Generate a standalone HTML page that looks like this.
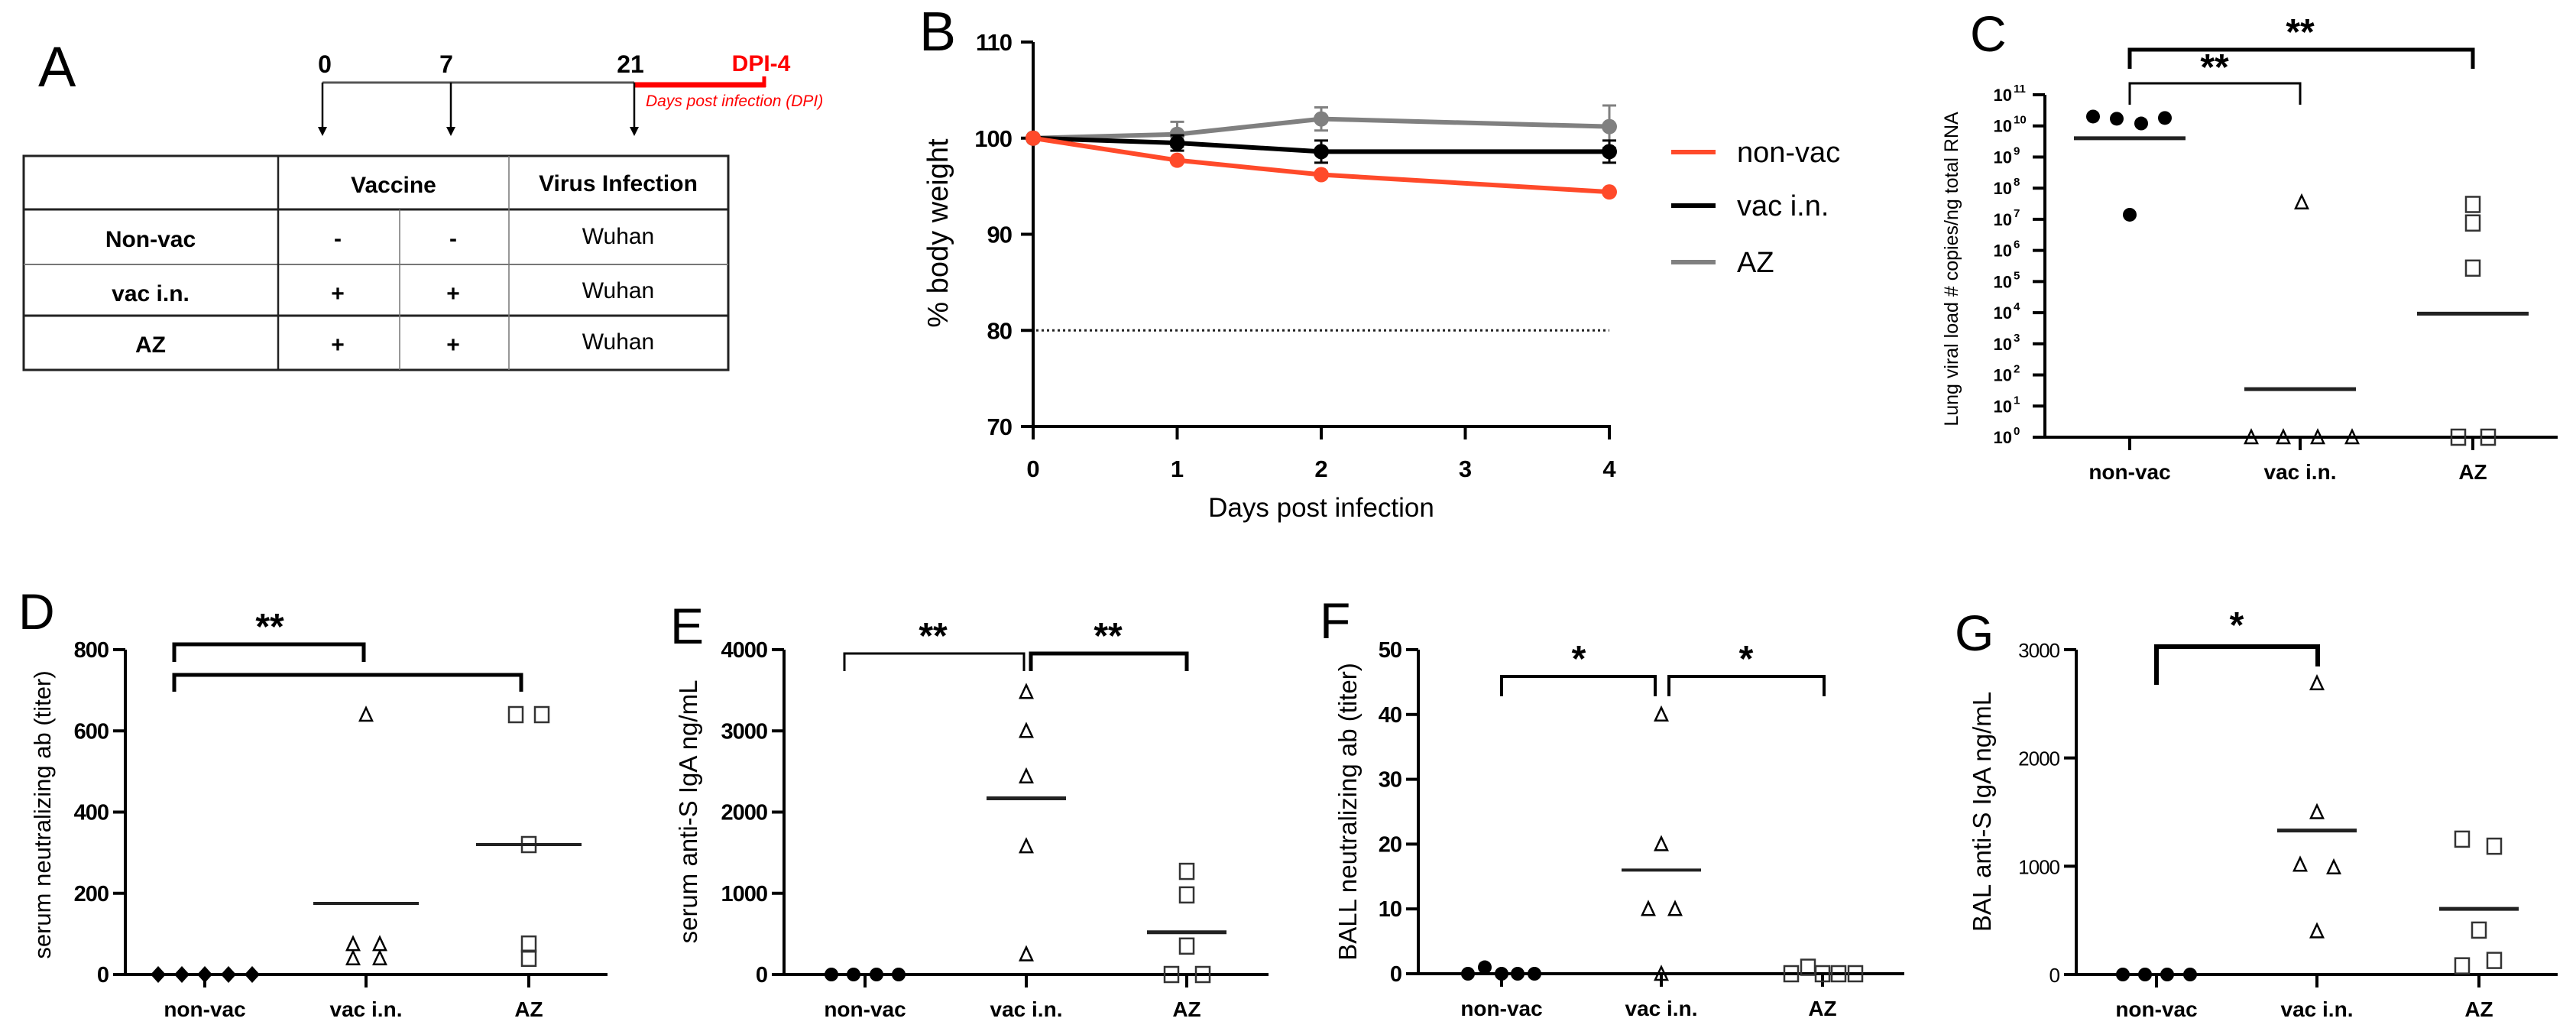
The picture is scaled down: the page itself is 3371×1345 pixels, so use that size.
<!DOCTYPE html>
<html><head><meta charset="utf-8">
<style>
html,body{margin:0;padding:0;background:#fff;}
svg{display:block;font-family:"Liberation Sans",Arial,sans-serif;}
</style></head>
<body>
<svg id="fig" xmlns="http://www.w3.org/2000/svg" width="3371" height="1345" viewBox="0 0 3371 1345">
<rect width="3371" height="1345" fill="#fff"/>
<!-- Panel A -->
<g>
<text x="50" y="113" font-size="74">A</text>
<g font-weight="bold" font-size="32" text-anchor="middle">
<line x1="422" y1="108" x2="830" y2="108" stroke="#555" stroke-width="3"/>
<line x1="830" y1="111" x2="1002" y2="111" stroke="#f00" stroke-width="7"/>
<line x1="1000" y1="100" x2="1000" y2="114" stroke="#f00" stroke-width="5"/>
<line x1="422" y1="108" x2="422" y2="170" stroke="#000" stroke-width="2.5"/><path d="M416 166 L428 166 L422 178 Z"/>
<line x1="590" y1="108" x2="590" y2="170" stroke="#000" stroke-width="2.5"/><path d="M584 166 L596 166 L590 178 Z"/>
<line x1="830" y1="108" x2="830" y2="170" stroke="#000" stroke-width="2.5"/><path d="M824 166 L836 166 L830 178 Z"/>
<text x="425" y="95">0</text>
<text x="584" y="95">7</text>
<text x="825" y="95">21</text>
<text x="996" y="93" fill="#f00" font-size="30">DPI-4</text>
<text x="845" y="139" fill="#f00" font-size="21" font-weight="normal" font-style="italic" text-anchor="start">Days post infection  (DPI)</text>
</g>
<g font-size="30" text-anchor="middle">
<rect x="31" y="204" width="922" height="280" fill="none" stroke="#222" stroke-width="3"/>
<line x1="31" y1="274" x2="953" y2="274" stroke="#222" stroke-width="3"/>
<line x1="31" y1="346" x2="953" y2="346" stroke="#777" stroke-width="2"/>
<line x1="31" y1="413" x2="953" y2="413" stroke="#222" stroke-width="3"/>
<line x1="364" y1="204" x2="364" y2="484" stroke="#222" stroke-width="2.5"/>
<line x1="523" y1="274" x2="523" y2="484" stroke="#777" stroke-width="1.5"/>
<line x1="666" y1="204" x2="666" y2="484" stroke="#777" stroke-width="1.5"/>
<text x="515" y="252" font-weight="bold">Vaccine</text>
<text x="809" y="250" font-weight="bold">Virus Infection</text>
<text x="197" y="323" font-weight="bold">Non-vac</text>
<text x="197" y="394" font-weight="bold">vac i.n.</text>
<text x="197" y="461" font-weight="bold">AZ</text>
<text x="442" y="322" font-weight="bold">-</text><text x="593" y="322" font-weight="bold">-</text>
<text x="442" y="394" font-weight="bold">+</text><text x="593" y="394" font-weight="bold">+</text>
<text x="442" y="461" font-weight="bold">+</text><text x="593" y="461" font-weight="bold">+</text>
<text x="809" y="319">Wuhan</text><text x="809" y="390">Wuhan</text><text x="809" y="457">Wuhan</text>
</g>
</g>
<g id="charts"></g>
</svg>
<script>
// ---------- Panel B data ----------
const bDays = [0, 1, 2, 4];
const bNonVac = [100, 97.7, 96.2, 94.4];
const bVac = [100, 99.5, 98.6, 98.6];
const bVacErr = [0, 0.8, 1.15, 1.15];
const bAZ = [100, 100.4, 102.0, 101.2];
const bAZErr = [0, 1.3, 1.2, 2.2];
const bYTicks = [70, 80, 90, 100, 110];
const bXTicks = [0, 1, 2, 3, 4];
const bThreshold = 80;
// ---------- Panel C data ----------
const cNonVac = [2e10, 1.7e10, 1.2e10, 1.8e10, 1.4e7];
const cVac = [3.5e7, 1, 1, 1, 1];
const cAZ = [7.6e6, 2.7e5, 1, 1, 3e7];
const cMeans = [4e9, 35, 9.3e3];
const cExps = [0,1,2,3,4,5,6,7,8,9,10,11];
// ---------- Panel D data ----------
const dNonVac = [0, 0, 0, 0, 0];
const dVac = [640, 75, 75, 40, 40];
const dAZ = [640, 640, 320, 75, 40];
const dMeans = [0, 175, 320];
const dTicks = [0, 200, 400, 600, 800];
// ---------- Panel E data ----------
const eNonVac = [0, 0, 0, 0];
const eVac = [3480, 3000, 2440, 1580, 250];
const eAZ = [1270, 980, 350, 0, 0];
const eMeans = [0, 2170, 520];
const eTicks = [0, 1000, 2000, 3000, 4000];
// ---------- Panel F data ----------
const fNonVac = [0, 1, 0, 0, 0];
const fVac = [40, 20, 10, 10, 0];
const fAZ = [0, 1, 0, 0, 0];
const fMeans = [0, 16, 0.2];
const fTicks = [0, 10, 20, 30, 40, 50];
// ---------- Panel G data ----------
const gNonVac = [0, 0, 0, 0];
const gVac = [2690, 1500, 1015, 990, 400];
const gAZ = [1250, 1185, 410, 80, 130];
const gMeans = [0, 1330, 606];
const gTicks = [0, 1000, 2000, 3000];
const groups = ["non-vac", "vac i.n.", "AZ"];

const NS = "http://www.w3.org/2000/svg";
const root = document.getElementById("charts");
function mk(tag, attrs, parent) {
  const e = document.createElementNS(NS, tag);
  for (const k in attrs) e.setAttribute(k, attrs[k]);
  (parent || root).appendChild(e);
  return e;
}
function lin(d0, d1, r0, r1) { return v => r0 + (v - d0) / (d1 - d0) * (r1 - r0); }
function txt(x, y, s, attrs, parent) { const t = mk("text", Object.assign({x: x, y: y}, attrs), parent); t.textContent = s; return t; }

// ================= Panel B =================
(function () {
  const g = mk("g", {});
  
  
  const x = lin(0, 4, 1352, 2106), y = lin(70, 110, 558, 55);
  const lab = txt(1203, 66, "B", {"font-size": 72}, g);
  
  
  mk("line", {x1: 1352, y1: y(110), x2: 1352, y2: 560, stroke: "#000", "stroke-width": 4}, g);
  mk("line", {x1: 1350, y1: 558, x2: 2108, y2: 558, stroke: "#000", "stroke-width": 4}, g);
  bYTicks.forEach(v => {
    mk("line", {x1: 1336, y1: y(v), x2: 1352, y2: y(v), stroke: "#000", "stroke-width": 4}, g);
    const t = txt(1324, y(v) + 11, String(v), {"font-size": 31, "font-weight": "bold", "text-anchor": "end", "letter-spacing": "-1"}, g);
    
    
  });
  bXTicks.forEach(v => {
    mk("line", {x1: x(v), y1: 558, x2: x(v), y2: 575, stroke: "#000", "stroke-width": 4}, g);
    const t = txt(x(v), 624, String(v), {"font-size": 31, "font-weight": "bold", "text-anchor": "middle"}, g);
    
    
  });
  const xt = txt(1729, 676, "Days post infection", {"font-size": 35, "text-anchor": "middle"}, g);
  
  
  const yt = txt(0, 0, "% body weight", {"font-size": 38, "text-anchor": "middle", transform: "translate(1240,305) rotate(-90)"}, g);
  
  
  const th = mk("line", {x1: 1356, y1: y(bThreshold), x2: 2106, y2: y(bThreshold), stroke: "#222", "stroke-width": 3, "stroke-dasharray": "3,4"}, g);
  
  
  const series = [
    {vals: bAZ, err: bAZErr, col: "#808080", name: "az"},
    {vals: bVac, err: bVacErr, col: "#000", name: "vac-in"},
    {vals: bNonVac, err: null, col: "#ff4a2a", name: "non-vac"}
  ];
  series.forEach(s => {
    const pts = bDays.map((d, i) => x(d) + "," + y(s.vals[i])).join(" ");
    const pl = mk("polyline", {points: pts, fill: "none", stroke: s.col, "stroke-width": 6}, g);
    
    
    bDays.forEach((d, i) => {
      if (s.err && s.err[i] > 0) {
        const e = s.err[i];
        mk("line", {x1: x(d), y1: y(s.vals[i] + e), x2: x(d), y2: y(s.vals[i] - e), stroke: s.col, "stroke-width": 3}, g);
        mk("line", {x1: x(d) - 9, y1: y(s.vals[i] + e), x2: x(d) + 9, y2: y(s.vals[i] + e), stroke: s.col, "stroke-width": 3}, g);
        mk("line", {x1: x(d) - 9, y1: y(s.vals[i] - e), x2: x(d) + 9, y2: y(s.vals[i] - e), stroke: s.col, "stroke-width": 3}, g);
      }
      const c = mk("circle", {cx: x(d), cy: y(s.vals[i]), r: 10, fill: s.col}, g);
      
      
    });
  });
  const leg = [["non-vac", "#ff4a2a", 199], ["vac i.n.", "#000", 269], ["AZ", "#808080", 343]];
  leg.forEach(l => {
    const lg = mk("g", {}, g);
    
    
    mk("line", {x1: 2187, y1: l[2], x2: 2245, y2: l[2], stroke: l[1], "stroke-width": 6}, lg);
    txt(2273, l[2] + 13, l[0], {"font-size": 38}, lg);
  });
})();

// ========== generic dot plot helpers ==========
function marker(g, kind, cx, cy, nm) {
  let e;
  if (kind === "circle") e = mk("circle", {cx: cx, cy: cy, r: 9, fill: "#000"}, g);
  else if (kind === "diamond") e = mk("path", {d: `M${cx} ${cy-11} L${cx+10} ${cy} L${cx} ${cy+11} L${cx-10} ${cy} Z`, fill: "#000"}, g);
  else if (kind === "tri") e = mk("path", {d: `M${cx} ${cy-9} L${cx+8} ${cy+8} L${cx-8} ${cy+8} Z`, fill: "none", stroke: "#000", "stroke-width": 2.5}, g);
  else e = mk("rect", {x: cx - 9, y: cy - 10, width: 18, height: 20, fill: "none", stroke: "#333", "stroke-width": 2.5}, g);
  
  
}
function bracket(g, x1, x2, yb, yl, yr, sw) {
  const b = mk("path", {d: `M${x1} ${yl} L${x1} ${yb} L${x2} ${yb} L${x2} ${yr}`, fill: "none", stroke: "#000", "stroke-width": sw}, g);
  
  
}
function star(g, x, y, s) {
  const t = txt(x, y, s, {"font-size": 48, "font-weight": "bold", "text-anchor": "middle"}, g);
  
  
}
function dotPanel(cfg) {
  const g = mk("g", {});
  
  
  const y = cfg.y;
  const lab = txt(cfg.labX, cfg.labY, cfg.letter, {"font-size": 66}, g);
  
  
  mk("line", {x1: cfg.ax, y1: cfg.yTop, x2: cfg.ax, y2: cfg.y0 + 2, stroke: "#000", "stroke-width": 4}, g);
  mk("line", {x1: cfg.ax - 16, y1: cfg.y0, x2: cfg.axEnd, y2: cfg.y0, stroke: "#000", "stroke-width": 4}, g);
  cfg.ticks.forEach((v, i) => {
    mk("line", {x1: cfg.ax - 16, y1: y(v), x2: cfg.ax, y2: y(v), stroke: "#000", "stroke-width": 4}, g);
    const t = txt(cfg.ax - 22, y(v) + 10, cfg.tickFmt ? cfg.tickFmt(v) : String(v), {"font-size": cfg.tickSize || 29, "font-weight": cfg.tickWeight || "bold", "text-anchor": "end", "letter-spacing": "-1"}, g);
    
    
  });
  groups.forEach((n, i) => {
    mk("line", {x1: cfg.cx[i], y1: cfg.y0, x2: cfg.cx[i], y2: cfg.y0 + 17, stroke: "#000", "stroke-width": 4}, g);
    const t = txt(cfg.cx[i], cfg.y0 + 55, n, {"font-size": 28, "font-weight": "bold", "text-anchor": "middle"}, g);
    
    
  });
  const yt = txt(0, 0, cfg.title, {"font-size": cfg.titleSize || 31, "text-anchor": "middle", transform: `translate(${cfg.titleX},${cfg.titleY}) rotate(-90)`}, g);
  
  
  cfg.series.forEach((vals, gi) => {
    vals.forEach((v, i) => marker(g, cfg.kinds[gi], cfg.cx[gi] + cfg.jit[gi][i], y(v), 'point-' + groups[gi].replace(/[ .]/g, '')));
  });
  cfg.means.forEach((m, gi) => {
    if (cfg.meanSkip && cfg.meanSkip[gi]) return;
    const l = mk("line", {x1: cfg.cx[gi] - cfg.mw, y1: y(m), x2: cfg.cx[gi] + cfg.mw, y2: y(m), stroke: "#222", "stroke-width": cfg.meanW || 5}, g);
    
    
  });
  return g;
}

// ================= Panel C =================
(function () {
  const y = v => lin(0, 11, 572, 124)(Math.log10(v));
  const g = dotPanel({
    name: "panel-c-viral-load", letter: "C", labX: 2578, labY: 67, ax: 2676, y0: 572, yTop: 124, axEnd: 3347,
    y: y, ticks: cExps.map(e => Math.pow(10, e)), tickFmt: () => "", cx: [2787, 3010, 3236],
    title: "Lung viral load # copies/ng total RNA", titleX: 2562, titleY: 352, titleSize: 25,
    series: [cNonVac, cVac, cAZ], kinds: ["circle", "tri", "sq"],
    jit: [[-48, -17, 15, 46, 0], [2, -64, -22, 23, 68], [0, 0, -19, 20, 0]],
    means: cMeans, mw: 73, meanW: 5
  });
  cExps.forEach(e => {
    const t = txt(2633, y(Math.pow(10, e)) + 8, "10", {"font-size": 22, "font-weight": "bold", "text-anchor": "end"}, g);
    
    
    const s = txt(2635, y(Math.pow(10, e)) - 3, String(e), {"font-size": 15, "font-weight": "bold"}, g);
    
    
  });
  bracket(g, 2787, 3236, 65, 90, 90, 5); star(g, 3010, 58, "**");
  bracket(g, 2787, 3010, 109, 137, 137, 3); star(g, 2898, 104, "**");
})();

// ================= Panel D =================
(function () {
  const g = dotPanel({
    name: "panel-d-serum-neutralizing", letter: "D", labX: 24, labY: 823, ax: 164, y0: 1275, yTop: 850, axEnd: 795,
    y: lin(0, 800, 1275, 850), ticks: dTicks, cx: [268, 479, 692],
    title: "serum neutralizing ab (titer)", titleX: 66, titleY: 1066, titleSize: 31,
    series: [dNonVac, dVac, dAZ], kinds: ["diamond", "tri", "sq"],
    jit: [[-61, -30, 0, 31, 62], [0, -17, 18, -17, 18], [-17, 17, 0, 0, 0]],
    means: dMeans, meanSkip: [true, false, false], mw: 69, meanW: 4
  });
  bracket(g, 228, 476, 843, 866, 866, 5); star(g, 353, 836, "**");
  bracket(g, 228, 682, 883, 905, 905, 5);
})();

// ================= Panel E =================
(function () {
  const g = dotPanel({
    name: "panel-e-serum-iga", letter: "E", labX: 877, labY: 842, ax: 1026, y0: 1275, yTop: 850, axEnd: 1660,
    y: lin(0, 4000, 1275, 850), ticks: eTicks, cx: [1132, 1343, 1553],
    title: "serum anti-S IgA ng/mL", titleX: 912, titleY: 1062, titleSize: 33,
    series: [eNonVac, eVac, eAZ], kinds: ["circle", "tri", "sq"],
    jit: [[-44, -15, 15, 44], [0, 0, 0, 0, 0], [0, 0, 0, -20, 21]],
    means: eMeans, meanSkip: [true, false, false], mw: 52, meanW: 5
  });
  bracket(g, 1105, 1340, 855, 878, 878, 3); star(g, 1221, 848, "**");
  bracket(g, 1349, 1553, 855, 878, 878, 5); star(g, 1450, 848, "**");
})();

// ================= Panel F =================
(function () {
  const g = dotPanel({
    name: "panel-f-ball-neutralizing", letter: "F", labX: 1727, labY: 835, ax: 1856, y0: 1274, yTop: 850, axEnd: 2492,
    y: lin(0, 50, 1274, 850), ticks: fTicks, cx: [1965, 2174, 2385],
    title: "BALL neutralizing ab (titer)", titleX: 1775, titleY: 1062, titleSize: 33,
    series: [fNonVac, fVac, fAZ], kinds: ["circle", "tri", "sq"],
    jit: [[-44, -22, 0, 21, 43], [0, 0, -17, 18, 0], [-41, -19, 0, 21, 43]],
    means: fMeans, meanSkip: [true, false, true], mw: 52, meanW: 4
  });
  bracket(g, 1965, 2166, 885, 911, 911, 4); star(g, 2066, 878, "*");
  bracket(g, 2184, 2387, 885, 911, 911, 4); star(g, 2285, 878, "*");
})();

// ================= Panel G =================
(function () {
  const g = dotPanel({
    name: "panel-g-bal-iga", letter: "G", labX: 2558, labY: 851, ax: 2717, y0: 1275, yTop: 850, axEnd: 3347,
    y: lin(0, 3000, 1275, 850), ticks: gTicks, cx: [2822, 3032, 3244], tickWeight: "normal", tickSize: 26,
    title: "BAL anti-S IgA ng/mL", titleX: 2605, titleY: 1062, titleSize: 33,
    series: [gNonVac, gVac, gAZ], kinds: ["circle", "tri", "sq"],
    jit: [[-44, -15, 14, 44], [0, 0, -22, 22, 0], [-22, 20, 0, -22, 20]],
    means: gMeans, meanSkip: [true, false, false], mw: 52, meanW: 5
  });
  bracket(g, 2822, 3033, 846, 896, 872, 6); star(g, 2927, 834, "*");
})();
</script>
</body></html>
